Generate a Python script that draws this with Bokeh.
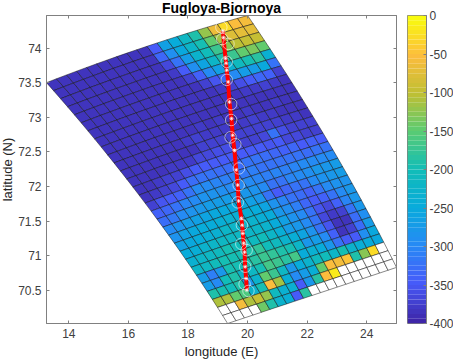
from bokeh.plotting import figure
from bokeh.models import Range1d, LinearAxis, FixedTicker, LinearColorMapper, ColumnDataSource, Title
from bokeh.layouts import row
from bokeh.embed import file_html
from bokeh.resources import INLINE
import numpy as np

N = None
title_text = "Fugloya-Bjornoya"
x_label = "longitude (E)"
y_label = "latitude (N)"
x_ticks = [14, 16, 18, 20, 22, 24]
x_tick_labels = ["14", "16", "18", "20", "22", "24"]
y_ticks = [70.5, 71, 71.5, 72, 72.5, 73, 73.5, 74]
y_tick_labels = ["70.5", "71", "71.5", "72", "72.5", "73", "73.5", "74"]
cbar_ticks = [0, -50, -100, -150, -200, -250, -300, -350, -400]
cbar_tick_labels = ["0", "-50", "-100", "-150", "-200", "-250", "-300", "-350", "-400"]

# mesh corners: left, top, bottom, right
corner_lon = [13.25, 20.0, 19.33, 25.0]
corner_lat = [73.50, 74.47, 70.02, 70.83]

depth_r00 = [-385]*10 + [-345, -265, -245, -215, -190, -125, -65, -30, -55, -60]
depth_r01 = [-385]*10 + [-335, -290, -255, -220, -195, -150, -115, -80, -70, -75]
depth_r02 = [-385]*10 + [-365, -320, -270, -230, -205, -170, -130, -105, -100, -95]
depth_r03 = [-385]*10 + [-380, -345, -290, -260, -220, -190, -170, -150, -135, -150]
depth_r04 = [-385]*10 + [-385, -370, -340, -300, -265, -235, -210, -195, -185, -235]
depth_r05 = [-385]*12 + [-372, -355, -330, -300, -275, -270, -255, -320]
depth_r06 = [-385]*13 + [-380, -375, -360, -350, -335, -340, -375]
depth_r07 = [-385]*15 + [-380, -378, -372, -378, -385]
depth_r08 = [-385]*20
depth_r09 = [-385]*9 + [-380, -385, -380, -385, -385, -378, -385, -385, -380, -385, -385]
depth_r10 = [-385]*7 + [-380, -375, -380, -378, -380, -385, -380, -375, -380, -380, -385, -385, -385]
depth_r11 = [-385]*8 + [-375, -375, -375, -375, -375, -375, -370, -375, -375, -380, -380, -385]
depth_r12 = [-385, -385, -385, -385, -378, -378, -378, -365, -365, -360, -360, -362, -370, -375, -365, -320, -360, -370, -370, -375]
depth_r13 = [-385, -385, -380, -375, -370, -360, -345, -345, -350, -350, -345, -345, -345, -350, -355, -350, -365, -365, -370, -372]
depth_r14 = [-385, -380, -375, -365, -345, -330, -325, -320, -330, -330, -330, -325, -325, -330, -335, -340, -335, -345, -340, -345]
depth_r15 = [-370, -355, -350, -340, -320, -300, -300, -305, -310, -310, -315, -310, -320, -320, -325, -325, -320, -330, -320, -320]
depth_r16 = [-340, -335, -325, -305, -295, -285, -285, -290, -295, -300, -300, -305, -310, -305, -310, -305, -300, -295, -300, -300]
depth_r17 = [-330, -315, -300, -285, -280, -270, -270, -275, -280, -280, -285, -295, -320, -325, -305, -300, -290, -280, -280, -270]
depth_r18 = [-300, -285, -275, -265, -260, -255, -255, -255, -255, -265, -280, -320, -350, -335, -325, -320, -300, -285, -280, -270]
depth_r19 = [-285, -265, -255, -250, -245, -240, -235, -240, -240, -250, -260, -285, -305, -325, -330, -340, -320, -295, -285, -285]
depth_r20 = [-265, -255, -250, -240, -235, -225, -225, -225, -230, -240, -250, -280, -290, -310, -335, -345, -340, -320, -295, -280]
depth_r21 = [-250, -240, -230, -225, -215, -215, -215, -220, -220, -230, -245, -265, -285, -300, -325, -355, -365, -340, -305, -280]
depth_r22 = [-235, -225, -215, -210, -200, -205, -205, -210, -205, -220, -240, -270, -280, -295, -325, -365, -380, -370, -325, -280]
depth_r23 = [-220, -215, -205, -195, -200, -195, -190, -180, -205, -210, -230, -240, -260, -285, -320, -355, -385, -385, -330, -290]
depth_r24 = [-270, -310, -280, -200, -195, -190, -185, -175, -180, -190, -200, -225, -280, -270, -300, -340, -385, -370, -330, -270]
depth_r25 = [-270, -300, -205, -190, -220, -215, -195, -165, -175, -185, -165, -245, -235, -250, -280, -320, -350, -345, -290, -255]
depth_r26 = [-190, -200, -205, -190, -280, -230, -150, -170, -215, -280, -250, -230, -210, -205, -220, -200, -230, -240, -250, -255]
depth_r27 = [-110, -110, -145, -160, -230, -200, -55, -115, -240, -300, -275, -240, -150, -55, -60, -50, -190, -130, -30, N]
depth_r28 = [N, N, -60, -110, -100, -125, -210, -235, -235, -345, -280, -185, -55, -15, N, N, N, N, N, N]
depth_r29 = [N, N, N, N, -140, -190, -230, -240, -345, -185, N, N, N, N, N, N, N, N, N, N]

track_lon = [19.17, 19.19, 19.26, 19.28, 19.30, 19.35, 19.39, 19.46, 19.50, 19.56, 19.62, 19.67, 19.70, 19.79, 19.82, 19.84, 19.87, 19.90, 19.92, 19.95, 19.98]
track_lat = [74.25, 74.15, 73.85, 73.78, 73.68, 73.51, 73.22, 72.98, 72.74, 72.52, 72.24, 72.02, 71.79, 71.54, 71.44, 71.32, 71.18, 71.05, 70.84, 70.67, 70.50]
ring_lon = [19.12, 19.15, 19.36, 19.30, 19.30, 19.45, 19.45, 19.43, 19.59, 19.71, 19.70, 19.67, 19.81, 19.79, 19.97, 19.92, 19.90, 20.03]
ring_lat = [74.30, 74.13, 74.06, 73.80, 73.54, 73.19, 72.96, 72.71, 72.61, 72.26, 72.02, 71.77, 71.44, 71.17, 71.08, 70.84, 70.59, 70.49]

rows = [depth_r00, depth_r01, depth_r02, depth_r03, depth_r04, depth_r05, depth_r06, depth_r07, depth_r08, depth_r09,
        depth_r10, depth_r11, depth_r12, depth_r13, depth_r14, depth_r15, depth_r16, depth_r17, depth_r18, depth_r19,
        depth_r20, depth_r21, depth_r22, depth_r23, depth_r24, depth_r25, depth_r26, depth_r27, depth_r28, depth_r29]
nr, nc = len(rows), 20

def node(r, c):
    u, v = c / nc, r / nr
    lo = (1-u)*(1-v)*corner_lon[0] + u*(1-v)*corner_lon[1] + (1-u)*v*corner_lon[2] + u*v*corner_lon[3]
    la = (1-u)*(1-v)*corner_lat[0] + u*(1-v)*corner_lat[1] + (1-u)*v*corner_lat[2] + u*v*corner_lat[3]
    lo += 4*v*(1-v)*(0.27*(1-u) + 0.2*u)
    la += 4*u*(1-u)*(1-v)*0.04
    return lo, la

xs, ys, vals = [], [], []
for r in range(nr):
    assert len(rows[r]) == nc, (r, len(rows[r]))
    for c in range(nc):
        pts = [node(r, c), node(r, c+1), node(r+1, c+1), node(r+1, c)]
        xs.append([q[0] for q in pts]); ys.append([q[1] for q in pts])
        vals.append(float("nan") if rows[r][c] is None else rows[r][c])

pos = [0, .125, .25, .375, .5, .625, .75, .875, 1]
rgb = [(.2422,.1504,.6603),(.2780,.3556,.9777),(.15,.54,.96),(.03,.67,.86),(.07,.74,.72),
       (.35,.80,.45),(.75,.75,.2),(.99,.74,.24),(.9763,.9831,.0538)]
t = np.linspace(0, 1, 64)
palette = ["#%02x%02x%02x" % tuple(int(round(255*np.interp(x, pos, [q[i] for q in rgb]))) for i in range(3)) for x in t]
mapper = LinearColorMapper(palette=palette, low=-400, high=0, nan_color="white")

p = figure(frame_width=350, frame_height=308, x_range=Range1d(13.25, 25.0), y_range=Range1d(70.02, 74.47),
           output_backend="svg", toolbar_location=None, min_border_left=46, min_border_top=15,
           min_border_right=11, min_border_bottom=40, background_fill_color="white")
p.grid.visible = False
p.outline_line_color = "#808080"
src = ColumnDataSource(dict(xs=xs, ys=ys, v=vals))
p.patches("xs", "ys", source=src, fill_color={"field": "v", "transform": mapper}, line_color="#111111", line_width=0.5)
p.line(track_lon, track_lat, line_color="#ff0000", line_width=4)
p.scatter(track_lon, track_lat, marker="asterisk", size=4, line_color="white", line_width=0.7)
p.scatter(ring_lon, ring_lat, marker="circle", size=11.5, fill_color=None, line_color="white", line_alpha=0.7, line_width=0.8)

def style(ax, ticks, labels=None, show=True):
    ax.ticker = FixedTicker(ticks=ticks)
    ax.major_tick_in = 3; ax.major_tick_out = 0
    ax.minor_tick_line_color = None
    ax.axis_line_color = "#808080"; ax.major_tick_line_color = "#808080"
    ax.major_label_text_font = "Liberation Sans"; ax.major_label_text_font_size = "12px"
    ax.major_label_text_color = "#404040"
    ax.axis_label_text_font = "Liberation Sans"; ax.axis_label_text_font_size = "13px"
    ax.axis_label_text_font_style = "normal"; ax.axis_label_text_color = "#262626"
    ax.major_label_overrides = {k: (lab if show else "") for k, lab in zip(ticks, labels)}

b = p.xaxis[0]; b.axis_label = x_label; style(b, x_ticks, x_tick_labels)
b.major_label_standoff = 5; b.axis_label_standoff = 3
l = p.yaxis[0]; l.axis_label = y_label; style(l, y_ticks, y_tick_labels)
l.major_label_standoff = 5; l.axis_label_standoff = 0
top = LinearAxis(); style(top, x_ticks, x_tick_labels, False); top.major_label_standoff = 0
rgt = LinearAxis(); style(rgt, y_ticks, y_tick_labels, False); rgt.major_label_standoff = 0
p.add_layout(top, "above"); p.add_layout(rgt, "right")
p.title = Title(text=title_text, align="center", text_font="Liberation Sans", text_font_size="14px",
                text_font_style="bold", text_color="black", standoff=0, offset=0)

cf = figure(frame_width=19, frame_height=308, x_range=Range1d(0, 1), y_range=Range1d(-400, 0),
            output_backend="svg", toolbar_location=None, min_border_left=0, min_border_top=15,
            min_border_right=32, min_border_bottom=40)
cf.grid.visible = False
cf.xaxis.visible = False; cf.yaxis.visible = False
cf.outline_line_color = "#808080"
edges = np.linspace(-400, 0, len(palette) + 1)
cf.quad(left=0, right=1, bottom=edges[:-1], top=edges[1:], fill_color=palette, line_color=None)
cax = LinearAxis(); style(cax, cbar_ticks, cbar_tick_labels); cax.major_label_standoff = 3
cf.add_layout(cax, "right")

lay = row(p, cf, spacing=0)
html = file_html(lay, INLINE)
html = html.replace("</head>", "<style>html,body{overflow:hidden;margin:0 !important;padding:0 !important}body{position:relative !important;left:-3px !important;top:-3px !important;width:470px !important;height:370px !important}</style></head>", 1)
open("out.html", "w").write(html)
